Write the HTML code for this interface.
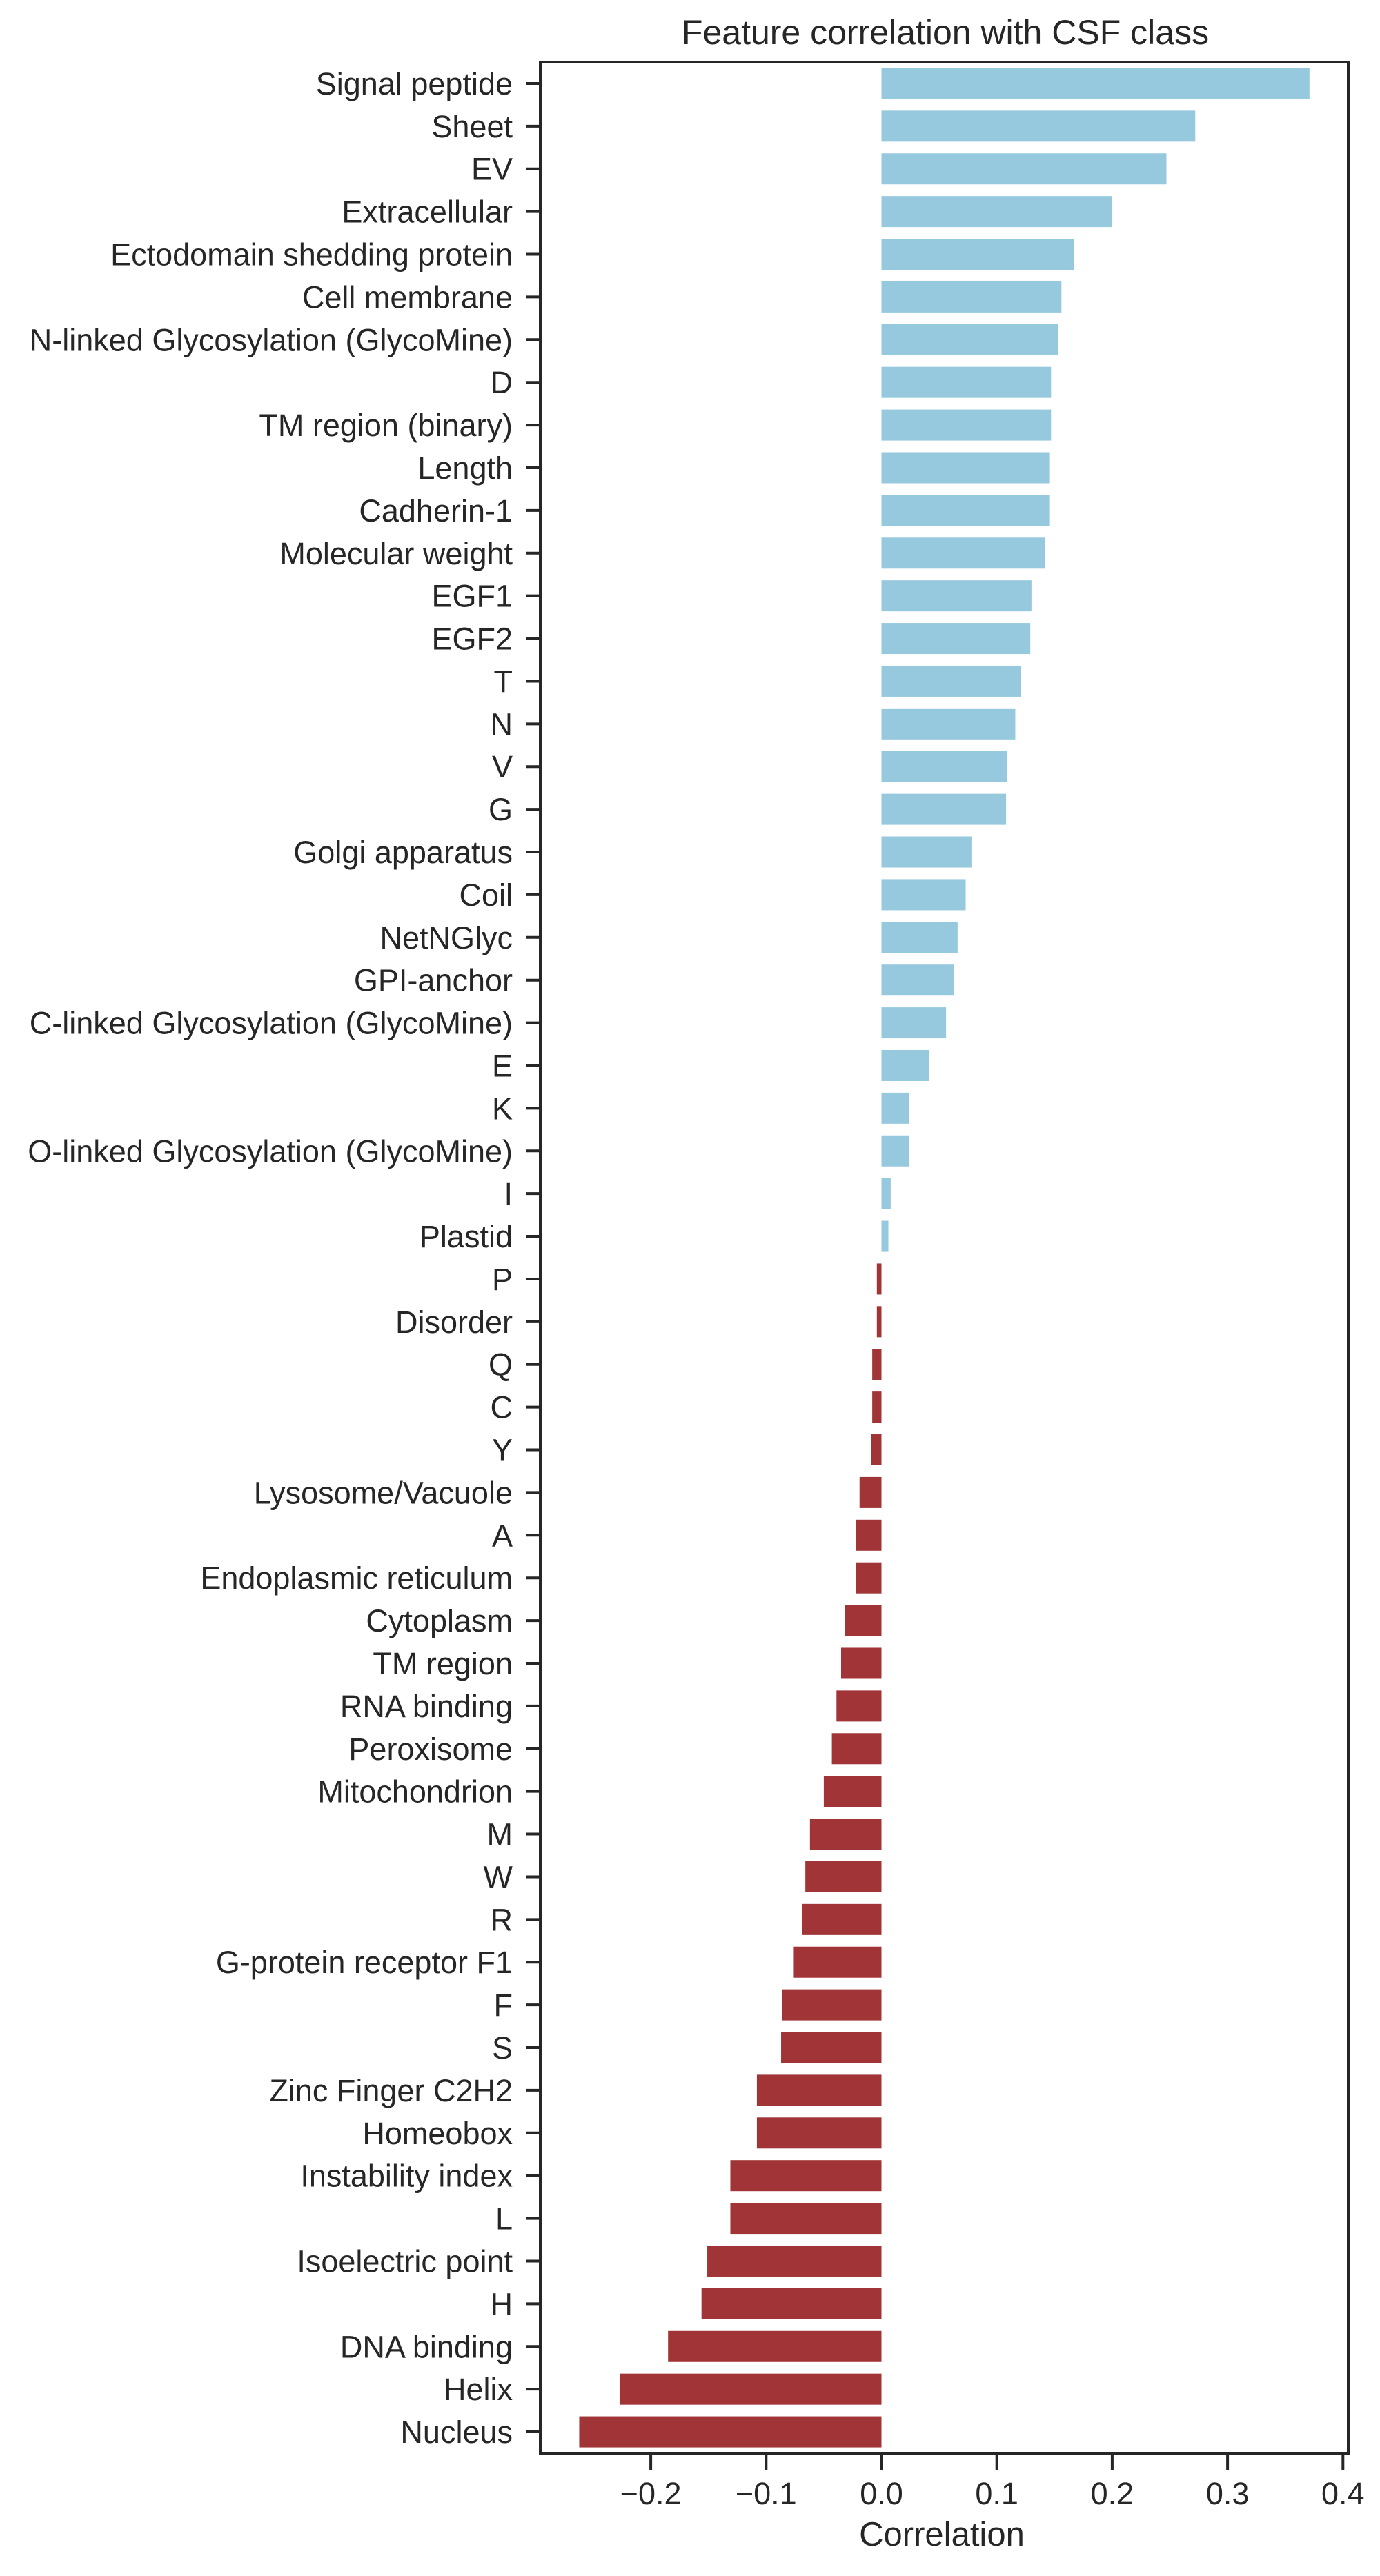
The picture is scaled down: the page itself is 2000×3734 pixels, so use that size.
<!DOCTYPE html>
<html><head><meta charset="utf-8"><style>
html,body{margin:0;padding:0;background:#fff;}
svg text{font-family:"Liberation Sans",Arial,sans-serif;fill:#262626;}
</style></head><body>
<svg id="chart" width="2000" height="3729" viewBox="0 0 2000 3729" xmlns="http://www.w3.org/2000/svg">
<rect x="0" y="0" width="2000" height="3729" fill="#fff"/>
<g id="bars"></g>
<g id="yaxis"></g>
<g id="xaxis"></g>
<rect x="783" y="90" width="1171" height="3466" fill="none" stroke="#262626" stroke-width="4"/>
<text x="1370" y="64" font-size="50" text-anchor="middle">Feature correlation with CSF class</text>
<text x="1365" y="3690" font-size="49" text-anchor="middle">Correlation</text>
</svg>
<script>
const categories = ["Signal peptide","Sheet","EV","Extracellular","Ectodomain shedding protein","Cell membrane","N-linked Glycosylation (GlycoMine)","D","TM region (binary)","Length","Cadherin-1","Molecular weight","EGF1","EGF2","T","N","V","G","Golgi apparatus","Coil","NetNGlyc","GPI-anchor","C-linked Glycosylation (GlycoMine)","E","K","O-linked Glycosylation (GlycoMine)","I","Plastid","P","Disorder","Q","C","Y","Lysosome/Vacuole","A","Endoplasmic reticulum","Cytoplasm","TM region","RNA binding","Peroxisome","Mitochondrion","M","W","R","G-protein receptor F1","F","S","Zinc Finger C2H2","Homeobox","Instability index","L","Isoelectric point","H","DNA binding","Helix","Nucleus"];
const correlations = [0.371,0.272,0.247,0.200,0.167,0.156,0.153,0.147,0.147,0.146,0.146,0.142,0.130,0.129,0.121,0.116,0.109,0.108,0.078,0.073,0.066,0.063,0.056,0.041,0.024,0.024,0.008,0.006,-0.004,-0.004,-0.008,-0.008,-0.009,-0.019,-0.022,-0.022,-0.032,-0.035,-0.039,-0.043,-0.050,-0.062,-0.066,-0.069,-0.076,-0.086,-0.087,-0.108,-0.108,-0.131,-0.131,-0.151,-0.156,-0.185,-0.227,-0.262];
const xTicks = [-0.2,-0.1,0.0,0.1,0.2,0.3,0.4];
const xTickLabels = ["\u22120.2","\u22120.1","0.0","0.1","0.2","0.3","0.4"];

const NS="http://www.w3.org/2000/svg";
const plotTop=90, plotBottom=3556, plotLeft=783;
const x0px=1277.5, pxPerUnit=1672;
function xScale(v){return x0px+v*pxPerUnit;}
const step=(plotBottom-plotTop)/categories.length;
function yCenter(i){return plotTop+step*(i+0.5);}
const barH=45;
const bars=document.getElementById('bars');
const yaxis=document.getElementById('yaxis');
const xaxis=document.getElementById('xaxis');
categories.forEach((c,i)=>{
  const v=correlations[i];
  const r=document.createElementNS(NS,'rect');
  const xa=xScale(Math.min(0,v)), xb=xScale(Math.max(0,v));
  r.setAttribute('x',xa); r.setAttribute('width',Math.max(0,xb-xa));
  r.setAttribute('y',yCenter(i)-barH/2); r.setAttribute('height',barH);
  r.setAttribute('fill',v>=0?'#96c9de':'#a03436');
  
  
  bars.appendChild(r);
  const t=document.createElementNS(NS,'line');
  t.setAttribute('x1',plotLeft-20); t.setAttribute('x2',plotLeft);
  t.setAttribute('y1',yCenter(i)); t.setAttribute('y2',yCenter(i));
  t.setAttribute('stroke','#262626'); t.setAttribute('stroke-width','4');
  
  
  yaxis.appendChild(t);
  const l=document.createElementNS(NS,'text');
  l.setAttribute('x',plotLeft-40); l.setAttribute('y',yCenter(i)+16);
  l.setAttribute('font-size','45'); l.setAttribute('text-anchor','end');
  l.textContent=c;
  
  
  yaxis.appendChild(l);
});
xTicks.forEach((v,i)=>{
  const t=document.createElementNS(NS,'line');
  t.setAttribute('x1',xScale(v)); t.setAttribute('x2',xScale(v));
  t.setAttribute('y1',plotBottom); t.setAttribute('y2',plotBottom+24);
  t.setAttribute('stroke','#262626'); t.setAttribute('stroke-width','4');
  
  
  xaxis.appendChild(t);
  const l=document.createElementNS(NS,'text');
  l.setAttribute('x',xScale(v)); l.setAttribute('y',plotBottom+74);
  l.setAttribute('font-size','45'); l.setAttribute('text-anchor','middle');
  l.textContent=xTickLabels[i];
  
  
  xaxis.appendChild(l);
});
</script>
</body></html>
